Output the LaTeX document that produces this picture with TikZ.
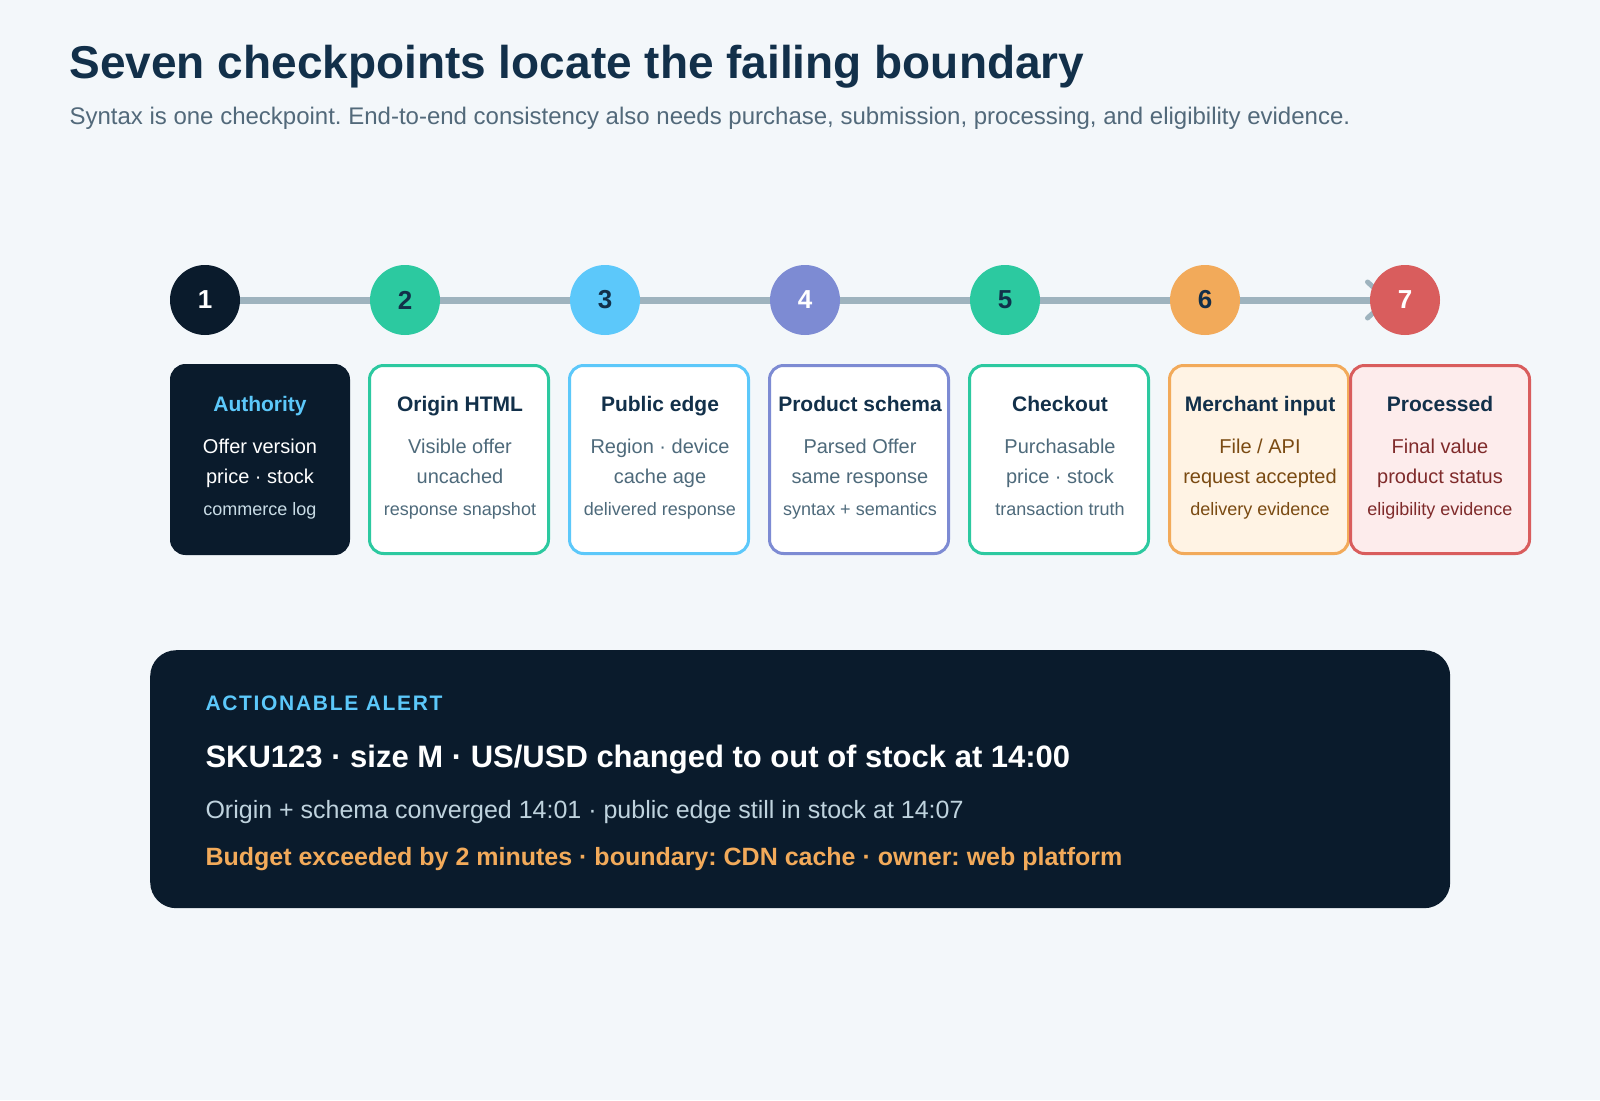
\documentclass[tikz,border=0pt]{standalone}
\usepackage{fontspec}
\setmainfont{Liberation Sans}
\usetikzlibrary{arrows.meta}
\definecolor{bgC}{HTML}{F3F7FA}
\definecolor{inkC}{HTML}{12304A}
\definecolor{subC}{HTML}{52697A}
\definecolor{navyC}{HTML}{0A1B2C}
\definecolor{tealC}{HTML}{2CC9A0}
\definecolor{skyC}{HTML}{5CC8FA}
\definecolor{violetC}{HTML}{7D8BD3}
\definecolor{amberC}{HTML}{F2AA5A}
\definecolor{coralC}{HTML}{D95D5D}
\definecolor{railC}{HTML}{9EB3BE}
\definecolor{grayC}{HTML}{4E6A7B}
\definecolor{paleC}{HTML}{C9DCE6}
\definecolor{creamC}{HTML}{FFF3E4}
\definecolor{brownC}{HTML}{7A4A12}
\definecolor{roseC}{HTML}{FDECEC}
\definecolor{wineC}{HTML}{7F2B2B}
\definecolor{mistC}{HTML}{BFD3DE}
\frenchspacing
\begin{document}
\begin{tikzpicture}[x=1pt,y=-1pt,
  dot/.style={circle,minimum size=70pt,inner sep=0pt,font=\fontsize{26}{26}\selectfont\bfseries},
  card/.style={rectangle,rounded corners=14pt,line width=3pt,minimum width=179pt,minimum height=188pt,inner sep=0pt,anchor=north west},
  ttl/.style={anchor=base,font=\fontsize{21}{24}\selectfont\bfseries,text=inkC},
  ln/.style={anchor=base,font=\fontsize{20}{22}\selectfont,text=grayC},
  sm/.style={anchor=base,font=\fontsize{18}{20}\selectfont,text=grayC},
  rail/.style={draw=railC,line width=7pt,-{Straight Barb[length=20pt,width=36pt,line width=5pt,round]}}]
\fill[bgC](0,0)rectangle(1600,1100);
\node[anchor=base west,text=inkC,font=\fontsize{46}{52}\selectfont\bfseries](title)at(66,78){Seven checkpoints locate the failing boundary};
\node[anchor=base west,text=subC,font=\fontsize{24}{28}\selectfont](subtitle)at(66,124){Syntax is one checkpoint. End-to-end consistency also needs purchase, submission, processing, and eligibility evidence.};
\path
(205,300) coordinate (p1)
(1405,300) coordinate (p7);
\draw[rail](p1)--([xshift=-15pt]p7);
\node[dot,fill=navyC,text=white](c1)at(p1){1};
\node[dot,fill=tealC,text=inkC](c2)at(405,300){2};
\node[dot,fill=skyC,text=inkC](c3)at(605,300){3};
\node[dot,fill=violetC,text=white](c4)at(805,300){4};
\node[dot,fill=tealC,text=inkC](c5)at(1005,300){5};
\node[dot,fill=amberC,text=inkC](c6)at(1205,300){6};
\node[dot,fill=coralC,text=white](c7)at(p7){7};
% checkpoint cards
\node[card,draw=navyC,fill=navyC,minimum width=177pt](b1)at(170,364){};
\node[card,draw=tealC,fill=white](b2)at(368,364){};
\node[card,draw=skyC,fill=white](b3)at(568,364){};
\node[card,draw=violetC,fill=white](b4)at(768,364){};
\node[card,draw=tealC,fill=white](b5)at(968,364){};
\node[card,draw=amberC,fill=creamC](b6)at(1168,364){};
\node[card,draw=coralC,fill=roseC](b7)at(1349,364){};
\path(260,411)node[ttl,text=skyC](t1){Authority} (260,453)node[ln,text=white](u1){Offer version} (260,483)node[ln,text=white](v1){price · stock} (260,515)node[sm,text=paleC](w1){commerce log};
\path(460,411)node[ttl](t2){Origin HTML} (460,453)node[ln](u2){Visible offer} (460,483)node[ln](v2){uncached} (460,515)node[sm](w2){response snapshot};
\path(660,411)node[ttl](t3){Public edge} (660,453)node[ln](u3){Region · device} (660,483)node[ln](v3){cache age} (660,515)node[sm](w3){delivered response};
\path(860,411)node[ttl](t4){Product schema} (860,453)node[ln](u4){Parsed Offer} (860,483)node[ln](v4){same response} (860,515)node[sm](w4){syntax + semantics};
\path(1060,411)node[ttl](t5){Checkout} (1060,453)node[ln](u5){Purchasable} (1060,483)node[ln](v5){price · stock} (1060,515)node[sm](w5){transaction truth};
\path(1260,411)node[ttl](t6){Merchant input} (1260,453)node[ln,text=brownC](u6){File / API} (1260,483)node[ln,text=brownC](v6){request accepted} (1260,515)node[sm,text=brownC](w6){delivery evidence};
\path(1440,411)node[ttl](t7){Processed} (1440,453)node[ln,text=wineC](u7){Final value} (1440,483)node[ln,text=wineC](v7){product status} (1440,515)node[sm,text=wineC](w7){eligibility evidence};
% alert panel
\node[rectangle,rounded corners=26pt,fill=navyC,minimum width=1300pt,minimum height=258pt,anchor=north west](alert)at(150,650){};
\node[anchor=base west,text=skyC,font=\fontsize{21}{24}\selectfont\bfseries\addfontfeatures{LetterSpace=8}](a1)at(202,710){ACTIONABLE ALERT};
\node[anchor=base west,text=white,font=\fontsize{31}{36}\selectfont\bfseries](a2)at(202,767){SKU123 · size M · US/USD changed to out of stock at 14:00};
\node[anchor=base west,text=mistC,font=\fontsize{25}{29}\selectfont](a3)at(202,818){Origin + schema converged 14:01 · public edge still in stock at 14:07};
\node[anchor=base west,text=amberC,font=\fontsize{25}{29}\selectfont\bfseries](a4)at(202,865){Budget exceeded by 2 minutes · boundary: CDN cache · owner: web platform};
\end{tikzpicture}
\end{document}
